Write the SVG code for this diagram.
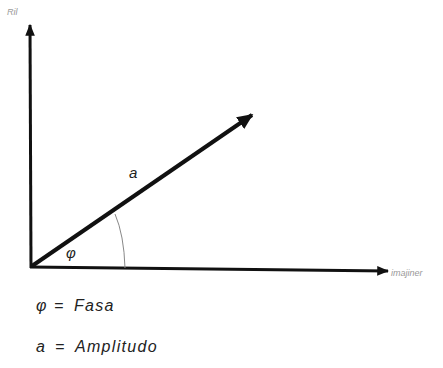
<svg xmlns="http://www.w3.org/2000/svg" width="443" height="368" viewBox="0 0 443 368">
<style>
.ax{stroke:#111;stroke-width:3;fill:none}
.lbl{font-family:"Liberation Sans",Arial,sans-serif;font-style:italic;fill:#222}
.leg{font-family:"Liberation Sans",Arial,sans-serif;font-style:italic;fill:#222;font-size:16px;letter-spacing:1.3px}
.small{font-family:"Liberation Sans",Arial,sans-serif;font-style:italic;fill:#999;font-size:9px}
</style>
<defs>
<marker id="ah" viewBox="0 0 10 10" refX="9" refY="5" markerWidth="4" markerHeight="4" orient="auto" markerUnits="strokeWidth">
<path d="M0,1 L10,5 L0,9 z" fill="#111"/>
</marker>
<marker id="ahv" viewBox="0 0 10 10" refX="9" refY="5" markerWidth="4" markerHeight="4" orient="auto" markerUnits="strokeWidth">
<path d="M0,0.5 L10,5 L0,9.5 z" fill="#111"/>
</marker>
</defs>
<rect width="443" height="368" fill="#fff"/>
<g id="connectors">
<line id="yaxis" class="ax" x1="31" y1="268" x2="30" y2="25" marker-end="url(#ah)"/>
<line id="xaxis" class="ax" x1="30" y1="267" x2="388" y2="271" marker-end="url(#ah)"/>
<line id="vector" x1="32" y1="266" x2="252" y2="115" stroke="#111" stroke-width="4" marker-end="url(#ahv)"/>
<path id="arc" d="M125,268 Q124,235 115,214" fill="none" stroke="#888" stroke-width="1"/>
</g>
<g id="labels">
<text class="small" x="7" y="15">Ril</text>
<text class="small" x="391" y="276">imajiner</text>
<text class="lbl" x="129" y="178" font-size="15">a</text>
<text class="lbl" x="66" y="258" font-size="15">φ</text>
<text class="leg" y="311"><tspan x="36">φ</tspan><tspan x="54">=</tspan><tspan x="74">Fasa</tspan></text>
<text class="leg" y="352"><tspan x="36">a</tspan><tspan x="55">=</tspan><tspan x="75">Amplitudo</tspan></text>
</g>
</svg>
